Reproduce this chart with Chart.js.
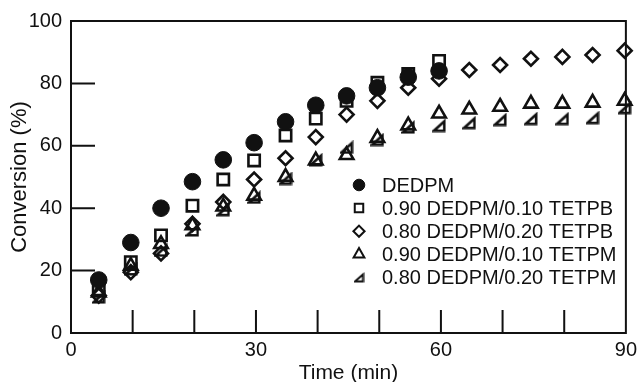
<!DOCTYPE html>
<html>
<head>
<meta charset="utf-8">
<script src="https://cdn.jsdelivr.net/npm/chart.js@4.4.0/dist/chart.umd.min.js"></script>
<style>
  html, body { margin: 0; padding: 0; background: #fff; }
  #wrap { width: 642px; height: 382px; }
</style>
</head>
<body>
<div id="wrap"><canvas id="chart" width="642" height="382"></canvas></div>
<script>
// values
const seriesNames = [
  "DEDPM",
  "0.90 DEDPM/0.10 TETPB",
  "0.80 DEDPM/0.20 TETPB",
  "0.90 DEDPM/0.10 TETPM",
  "0.80 DEDPM/0.20 TETPM",
]
const timeMin = [4.5, 9.7, 14.6, 19.7, 24.7, 29.7, 34.8, 39.7, 44.7, 49.7, 54.7, 59.7, 64.6, 69.6, 74.6, 79.7, 84.6, 89.8]
const dedpm = [17, 29, 40, 48.5, 55.5, 61, 67.7, 73, 76, 78.6, 82, 84]
const tetpb10 = [14, 22.7, 31.3, 40.8, 49.2, 55.3, 63.3, 68.7, 74.4, 80.2, 83, 87.2]
const tetpb20 = [12, 19.5, 25.5, 35, 42, 49.2, 56, 62.8, 70, 74.4, 78.6, 81.5, 84.3, 85.9, 87.9, 88.5, 89.1, 90.5]
const tetpm10 = [13, 21.5, 28.5, 34.5, 40.5, 44, 50, 55.3, 57, 62.5, 66.5, 70.3, 71.6, 72.5, 73.5, 73.5, 73.8, 74.4]
const tetpm20 = [11.5, 20.5, 26.5, 33, 39.5, 43.5, 49.5, 55.5, 59.5, 62, 66, 66.5, 67.4, 68.4, 68.7, 68.7, 69, 72.2]

const xTicks = [0, 30, 60, 90]
const yTicks = [0, 20, 40, 60, 80, 100]
const xMarks = [10, 20, 30, 40, 50, 60, 70, 80]
const yMarks = [20, 40, 60, 80]

const ink = "#111"
const fontFamily = '"Liberation Sans", Arial, Helvetica, sans-serif'

// right-angle triangle marker (the "half triangle" of the figure)
function halfTriangle(size, lw) {
  const c = document.createElement("canvas")
  c.width = size
  c.height = size
  const g = c.getContext("2d")
  const m = lw / 2 + 0.5
  g.strokeStyle = ink
  g.lineWidth = lw
  g.lineJoin = "miter"
  g.beginPath()
  g.moveTo(m, size - m)
  g.lineTo(size - m, size - m)
  g.lineTo(size - m, m + 1)
  g.closePath()
  g.stroke()
  return c
}

const toPoints = (vals) => vals.map((v, i) => ({ x: timeMin[i], y: v }))

const datasets = [
  { label: seriesNames[0], data: toPoints(dedpm), pointStyle: "circle", pointRadius: 8.3, backgroundColor: ink, borderWidth: 1,
    legendMark: { pointStyle: "circle", radius: 5.8, borderWidth: 1, fill: true } },
  { label: seriesNames[1], data: toPoints(tetpb10), pointStyle: "rect", pointRadius: 8, backgroundColor: "rgba(0,0,0,0)", borderWidth: 2.6,
    legendMark: { pointStyle: "rect", radius: 6, borderWidth: 2 } },
  { label: seriesNames[2], data: toPoints(tetpb20), pointStyle: "rectRot", pointRadius: 7, backgroundColor: "rgba(0,0,0,0)", borderWidth: 2.6,
    legendMark: { pointStyle: "rectRot", radius: 5.6, borderWidth: 2 } },
  { label: seriesNames[3], data: toPoints(tetpm10), pointStyle: "triangle", pointRadius: 7.8, backgroundColor: "rgba(0,0,0,0)", borderWidth: 2.6,
    legendMark: { pointStyle: "triangle", radius: 6.2, borderWidth: 2 } },
  { label: seriesNames[4], data: toPoints(tetpm20), pointStyle: halfTriangle(14, 2.6), pointRadius: 8, backgroundColor: "rgba(0,0,0,0)", borderWidth: 2.6,
    legendMark: { pointStyle: halfTriangle(11, 2), radius: 6, borderWidth: 2 } },
]
datasets.forEach((d) => {
  d.borderColor = ink
  d.pointHoverRadius = d.pointRadius
  d.showLine = false
  d.clip = false
})

// box round the plot and the inward tick marks
const frameTicks = {
  id: "frameTicks",
  beforeDatasetsDraw(chart) {
    const { ctx, chartArea: a, scales: { x, y } } = chart
    ctx.save()
    ctx.strokeStyle = ink
    ctx.lineWidth = 2
    ctx.strokeRect(a.left, a.top, a.right - a.left, a.bottom - a.top)
    ctx.beginPath()
    xMarks.forEach((v) => {
      const px = x.getPixelForValue(v)
      ctx.moveTo(px, a.bottom)
      ctx.lineTo(px, a.bottom - 23)
    })
    yMarks.forEach((v) => {
      const py = y.getPixelForValue(v)
      ctx.moveTo(a.left, py)
      ctx.lineTo(a.left + 24, py)
    })
    ctx.stroke()
    ctx.restore()
  },
}

// legend sits inside the plot, lower right
const insideLegend = {
  id: "insideLegend",
  afterDatasetsDraw(chart) {
    const { ctx } = chart
    const drawPoint = Chart.helpers && Chart.helpers.drawPoint
    ctx.save()
    ctx.font = "20px " + fontFamily
    ctx.textBaseline = "middle"
    ctx.textAlign = "left"
    chart.data.datasets.forEach((ds, i) => {
      const yy = 185 + i * 23.1
      const m = ds.legendMark
      ctx.strokeStyle = ink
      ctx.fillStyle = m.fill ? ink : "rgba(0,0,0,0)"
      ctx.lineWidth = m.borderWidth
      if (drawPoint) drawPoint(ctx, { pointStyle: m.pointStyle, radius: m.radius, rotation: 0, borderWidth: m.borderWidth }, 359, yy)
      ctx.fillStyle = ink
      ctx.fillText(ds.label, 382, yy + 1)
    })
    ctx.restore()
  },
}

new Chart(document.getElementById("chart"), {
  type: "scatter",
  data: { datasets },
  options: {
    responsive: false,
    animation: false,
    devicePixelRatio: 1,
    layout: { padding: { top: 20, right: 13, left: 0, bottom: 0 } },
    plugins: {
      legend: { display: false },
      tooltip: { enabled: false },
    },
    scales: {
      x: {
        type: "linear",
        min: 0,
        max: 90,
        afterBuildTicks: (s) => { s.ticks = xTicks.map((v) => ({ value: v })) },
        afterFit: (s) => { s.height = 49 },
        grid: { display: false, drawTicks: false },
        border: { display: false },
        ticks: { color: ink, font: { family: fontFamily, size: 20 }, padding: 5, maxRotation: 0, autoSkip: false },
        title: { display: true, text: "Time (min)", color: ink, font: { family: fontFamily, size: 21, lineHeight: 0.8 }, padding: 0 },
      },
      y: {
        type: "linear",
        min: 0,
        max: 100,
        afterBuildTicks: (s) => { s.ticks = yTicks.map((v) => ({ value: v })) },
        afterFit: (s) => { s.width = 71 },
        grid: { display: false, drawTicks: false },
        border: { display: false },
        ticks: { color: ink, font: { family: fontFamily, size: 20 }, padding: 9, autoSkip: false },
        title: { display: true, text: "Conversion (%)", color: ink, font: { family: fontFamily, size: 22, lineHeight: 1.2 }, padding: { top: 7, bottom: 0 } },
      },
    },
  },
  plugins: [frameTicks, insideLegend],
})
</script>
</body>
</html>
